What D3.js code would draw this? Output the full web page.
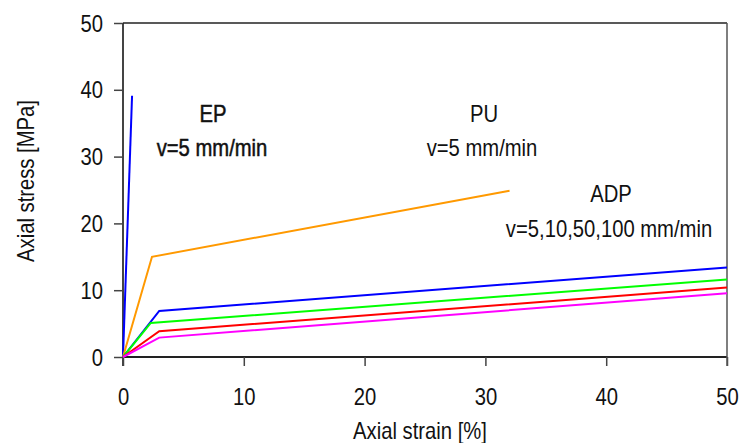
<!DOCTYPE html>
<html>
<head>
<meta charset="utf-8">
<script src="https://cdn.jsdelivr.net/npm/d3@7"></script>
<style>
  html, body { margin: 0; padding: 0; background: #fff; }
  svg text { font-family: "Liberation Sans", Arial, sans-serif; fill: #111; }
</style>
</head>
<body>
<svg id="chart" width="739" height="443"></svg>
<script>
// Stress–strain curves: [strain %, stress MPa]
const epCurve  = [[0, 0], [0.75, 39.1]];
const puCurve  = [[0, 0], [2.4, 15.0], [32.0, 24.9]];
const adp5     = [[0, 0], [3.0, 6.9], [50, 13.4]];
const adp10    = [[0, 0], [2.3, 5.1], [50, 11.6]];
const adp50    = [[0, 0], [3.0, 3.85], [50, 10.4]];
const adp100   = [[0, 0], [3.0, 2.9], [50, 9.55]];

const seriesNames  = ["EP", "PU", "ADP 5", "ADP 10", "ADP 50", "ADP 100"];
const seriesData   = [epCurve, puCurve, adp5, adp10, adp50, adp100];
const seriesColors = ["#0000ff", "#ff9900", "#0000ff", "#00ff00", "#ff0000", "#ff00ff"];

const xTicks = [0, 10, 20, 30, 40, 50];
const yTicks = [0, 10, 20, 30, 40, 50];

const FS = 23;        // font size
const SQ = 0.88;      // horizontal squeeze for a narrow look

const svg = d3.select("#chart");
const x = d3.scaleLinear().domain([0, 50]).range([123, 727]);
const y = d3.scaleLinear().domain([0, 50]).range([357, 23]);

const axisColor = "#444";

// y axis
const yAxis = svg.append("g").attr("transform", `translate(${x(0)},0)`)
  .call(d3.axisLeft(y).tickValues(yTicks).tickSize(9).tickFormat(d3.format("d")));
yAxis.select(".domain").attr("stroke", axisColor).attr("stroke-width", 2)
  .attr("d", `M0,${y(50)}V${y(0) + 9}`);
yAxis.selectAll(".tick line").attr("stroke", axisColor).attr("stroke-width", 1.5);
yAxis.selectAll(".tick text")
  .attr("x", null).attr("dy", "0.35em")
  .attr("transform", `translate(-20,0) scale(${SQ},1)`)
  .attr("font-size", FS).attr("font-family", null).attr("fill", "#111");

// x axis
const xAxis = svg.append("g").attr("transform", `translate(0,${y(0)})`)
  .call(d3.axisBottom(x).tickValues(xTicks).tickSize(9).tickFormat(d3.format("d")));
xAxis.select(".domain").attr("stroke", "#222").attr("stroke-width", 2)
  .attr("d", `M${x(0)},0H${x(50)}`);
xAxis.selectAll(".tick line").attr("stroke", axisColor).attr("stroke-width", 1.5);
xAxis.selectAll(".tick text")
  .attr("y", null).attr("dy", null)
  .attr("transform", `translate(0,48) scale(${SQ},1)`)
  .attr("font-size", FS).attr("font-family", null).attr("fill", "#111");

// frame: top and right edges
svg.append("line").attr("x1", x(0)).attr("x2", x(50)).attr("y1", y(50)).attr("y2", y(50))
  .attr("stroke", "#222").attr("stroke-width", 1.5);
svg.append("line").attr("x1", x(50)).attr("x2", x(50)).attr("y1", y(50)).attr("y2", y(0) + 9)
  .attr("stroke", "#555").attr("stroke-width", 1.5);

// curves
const line = d3.line().x(d => x(d[0])).y(d => y(d[1]));
svg.append("g").selectAll("path").data(seriesData).join("path")
  .attr("d", line)
  .attr("fill", "none")
  .attr("stroke", (d, i) => seriesColors[i])
  .attr("stroke-width", 2)
  .attr("stroke-linejoin", "miter");

// condensed text helper
function label(parent, t, px, py, opts = {}) {
  const g = parent.append("g").attr("transform", `translate(${px},${py})${opts.rotate ? " rotate(" + opts.rotate + ")" : ""}`);
  const el = g.append("text")
    .attr("transform", `scale(${SQ},1)`)
    .attr("text-anchor", opts.anchor || "middle")
    .attr("font-size", FS)
    .text(t);
  if (opts.heavy) el.attr("stroke", "#111").attr("stroke-width", 0.5);
  return el;
}

// annotations
const notes = [
  { t: "EP", x: 213, y: 122, heavy: true },
  { t: "v=5 mm/min", x: 212, y: 156, heavy: true },
  { t: "PU", x: 484, y: 122 },
  { t: "v=5 mm/min", x: 482, y: 156 },
  { t: "ADP", x: 611, y: 202 },
  { t: "v=5,10,50,100 mm/min", x: 609, y: 237 }
];
const notesG = svg.append("g");
notes.forEach(n => label(notesG, n.t, n.x, n.y, { heavy: n.heavy }));

// axis titles
label(svg, "Axial strain [%]", 420, 439);
label(svg, "Axial stress [MPa]", 34, 181, { rotate: -90 });
</script>
</body>
</html>
